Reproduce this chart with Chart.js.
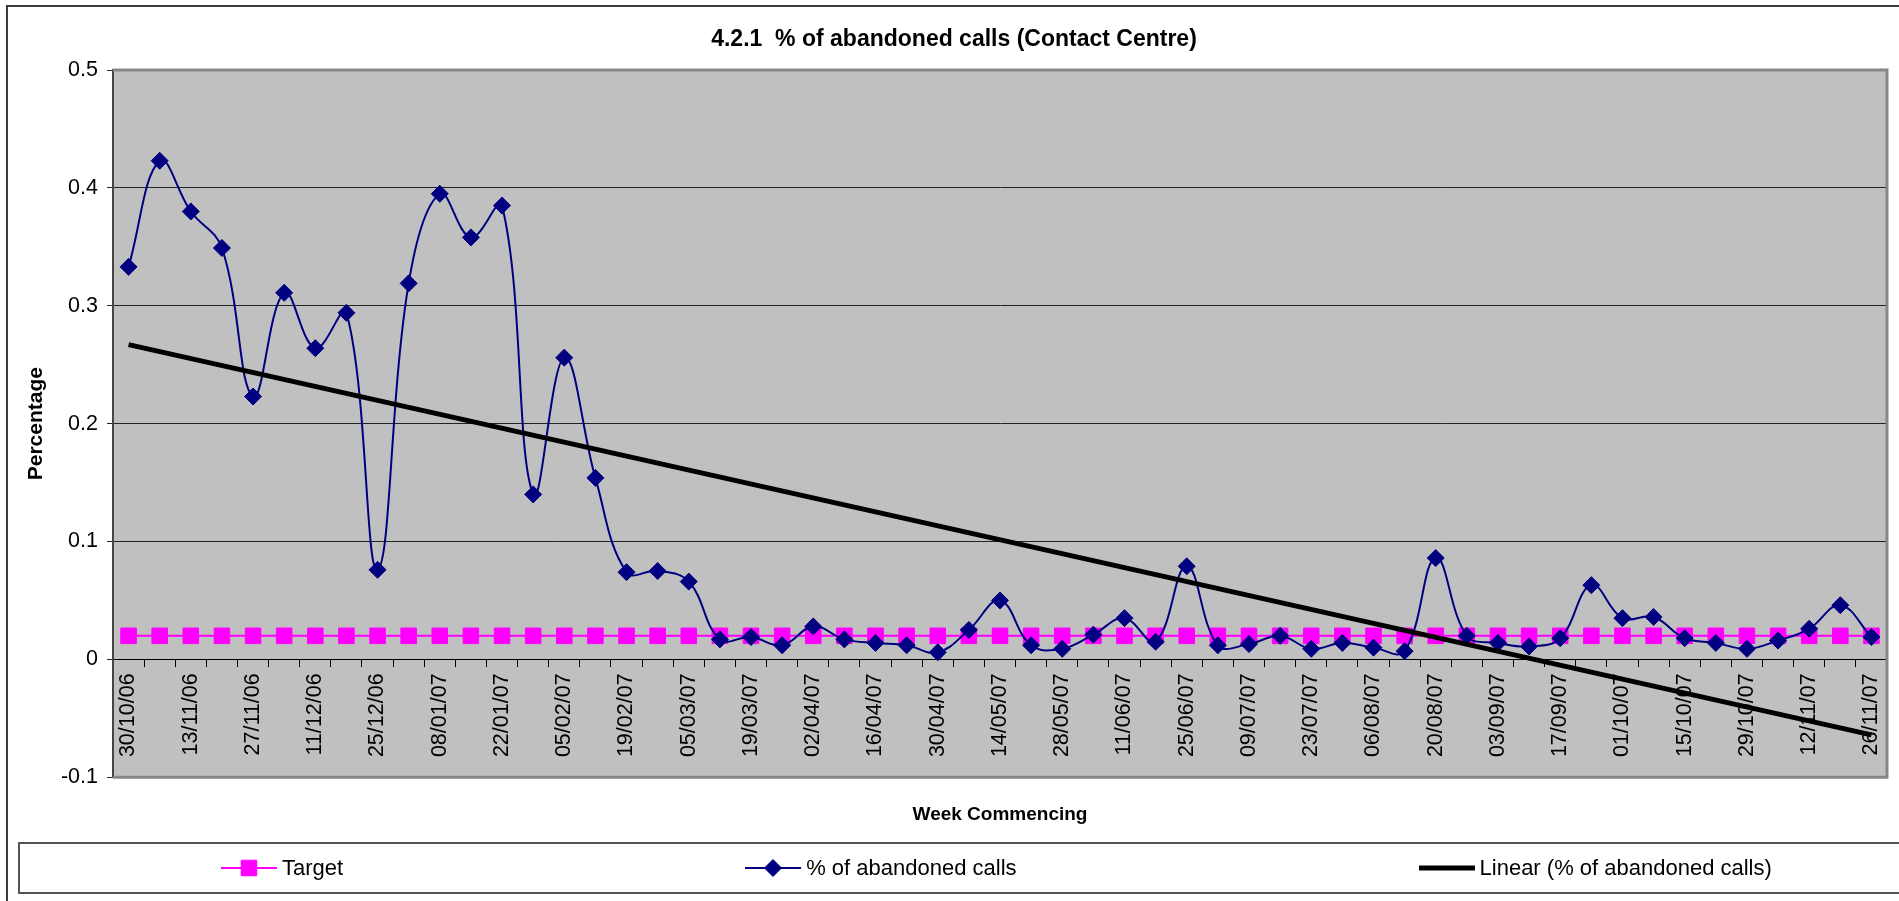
<!DOCTYPE html>
<html>
<head>
<meta charset="utf-8">
<title>4.2.1 % of abandoned calls (Contact Centre)</title>
<script src="https://cdn.jsdelivr.net/npm/chart.js@4.4.1/dist/chart.umd.min.js"></script>
<style>
  html, body { margin: 0; padding: 0; background: #fff; overflow: hidden; }
  #wrap { position: relative; width: 1899px; height: 901px; }
  #chart { position: absolute; left: 0; top: 0; }
  #frame { position: absolute; left: 6px; top: 5px; width: 1950px; height: 950px; border: 2px solid #3c3c3c; pointer-events: none; }
  #legend {
    position: absolute; left: 18px; top: 842px; width: 1950px; height: 52px;
    box-sizing: border-box; border: 2px solid #555; padding-left: 201px;
    display: flex; align-items: center; gap: 402px;
    font: 22px 'Liberation Sans', Arial, sans-serif; color: #000;
  }
  .item { display: flex; align-items: center; white-space: nowrap; }
  .item canvas { margin-right: 5px; }
</style>
</head>
<body>
<div id="wrap">
  <canvas id="chart" width="1899" height="901"></canvas>
  <div id="frame"></div>
  <div id="legend"></div>
</div>
<script>
// week commencing dates (every other one is labelled on the axis)
const weeks = [
    '30/10/06', '06/11/06', '13/11/06', '20/11/06', '27/11/06', '04/12/06', '11/12/06', '18/12/06',
    '25/12/06', '01/01/07', '08/01/07', '15/01/07', '22/01/07', '29/01/07', '05/02/07', '12/02/07',
    '19/02/07', '26/02/07', '05/03/07', '12/03/07', '19/03/07', '26/03/07', '02/04/07', '09/04/07',
    '16/04/07', '23/04/07', '30/04/07', '07/05/07', '14/05/07', '21/05/07', '28/05/07', '04/06/07',
    '11/06/07', '18/06/07', '25/06/07', '02/07/07', '09/07/07', '16/07/07', '23/07/07', '30/07/07',
    '06/08/07', '13/08/07', '20/08/07', '27/08/07', '03/09/07', '10/09/07', '17/09/07', '24/09/07',
    '01/10/07', '08/10/07', '15/10/07', '22/10/07', '29/10/07', '05/11/07', '12/11/07', '19/11/07',
    '26/11/07'
];

const abandoned = [
    0.333, 0.423, 0.380, 0.349, 0.223, 0.311, 0.264, 0.294, 0.076, 0.319,
    0.395, 0.358, 0.385, 0.140, 0.256, 0.154, 0.074, 0.075, 0.066, 0.017,
    0.019, 0.012, 0.028, 0.017, 0.014, 0.012, 0.006, 0.025, 0.050, 0.012,
    0.009, 0.021, 0.035, 0.015, 0.079, 0.012, 0.013, 0.020, 0.009, 0.014,
    0.010, 0.007, 0.086, 0.020, 0.014, 0.011, 0.018, 0.063, 0.035, 0.036,
    0.018, 0.014, 0.009, 0.016, 0.026, 0.046, 0.019
];

const target = [
    0.02, 0.02, 0.02, 0.02, 0.02, 0.02, 0.02, 0.02, 0.02, 0.02,
    0.02, 0.02, 0.02, 0.02, 0.02, 0.02, 0.02, 0.02, 0.02, 0.02,
    0.02, 0.02, 0.02, 0.02, 0.02, 0.02, 0.02, 0.02, 0.02, 0.02,
    0.02, 0.02, 0.02, 0.02, 0.02, 0.02, 0.02, 0.02, 0.02, 0.02,
    0.02, 0.02, 0.02, 0.02, 0.02, 0.02, 0.02, 0.02, 0.02, 0.02,
    0.02, 0.02, 0.02, 0.02, 0.02, 0.02, 0.02
];

const trendEnds = [0.267, -0.064];

const yRange = [-0.1, 0.5];
const yStep = 0.1;

Chart.defaults.font.family = "'Liberation Sans', Arial, sans-serif";
Chart.defaults.color = '#000';

// grey plot background and plot border
const plotFrame = {
    id: 'plotFrame',
    beforeDraw(chart) {
        const { ctx, chartArea: a } = chart;
        ctx.save();
        ctx.fillStyle = '#c0c0c0';
        ctx.fillRect(a.left, a.top, a.right - a.left, a.bottom - a.top);
        ctx.restore();
    },
    beforeDatasetsDraw(chart) {
        const { ctx, chartArea: a } = chart;
        ctx.save();
        ctx.strokeStyle = '#878787';
        ctx.lineWidth = 3;
        ctx.beginPath();
        ctx.moveTo(a.left, a.top);
        ctx.lineTo(a.right, a.top);
        ctx.lineTo(a.right, a.bottom);
        ctx.lineTo(a.left, a.bottom);
        ctx.stroke();
        ctx.restore();
    }
};

// legend built as html under the chart, with line + marker symbols
const htmlLegend = {
    id: 'htmlLegend',
    afterUpdate(chart) {
        const box = document.getElementById('legend');
        box.innerHTML = '';
        chart.data.datasets.forEach(ds => {
            const item = document.createElement('div');
            item.className = 'item';
            const sym = document.createElement('canvas');
            sym.width = 56;
            sym.height = 24;
            const c = sym.getContext('2d');
            c.strokeStyle = ds.borderColor;
            c.lineWidth = ds.borderWidth;
            c.beginPath();
            c.moveTo(0, 12);
            c.lineTo(56, 12);
            c.stroke();
            if (ds.pointRadius) {
                c.fillStyle = ds.pointBackgroundColor;
                c.strokeStyle = ds.pointBorderColor;
                c.lineWidth = ds.pointBorderWidth;
                Chart.helpers.drawPoint(c, {
                    pointStyle: ds.pointStyle,
                    radius: ds.pointRadius,
                    borderWidth: ds.pointBorderWidth,
                    rotation: 0
                }, 28, 12);
            }
            const label = document.createElement('span');
            label.textContent = ds.label;
            item.append(sym, label);
            box.appendChild(item);
        });
    }
};

const ctx = document.getElementById('chart').getContext('2d');
new Chart(ctx, {
    type: 'line',
    data: {
        labels: weeks,
        datasets: [{
            label: 'Target',
            data: target,
            xAxisID: 'x',
            borderColor: '#ff00ff',
            backgroundColor: '#ff00ff',
            borderWidth: 2,
            pointStyle: 'rect',
            pointRadius: 11,
            pointBackgroundColor: '#ff00ff',
            pointBorderColor: '#ff00ff',
            pointBorderWidth: 1,
            tension: 0,
            order: 2
        }, {
            label: '% of abandoned calls',
            data: abandoned,
            xAxisID: 'x',
            borderColor: '#000080',
            backgroundColor: '#000080',
            borderWidth: 2,
            pointStyle: 'rectRot',
            pointRadius: 8.5,
            pointBackgroundColor: '#000080',
            pointBorderColor: '#000080',
            pointBorderWidth: 1,
            tension: 0.4,
            order: 1
        }, {
            label: 'Linear (% of abandoned calls)',
            data: [
                { x: weeks[0], y: trendEnds[0] },
                { x: weeks[weeks.length - 1], y: trendEnds[1] }
            ],
            xAxisID: 'x',
            borderColor: '#000000',
            backgroundColor: '#000000',
            borderWidth: 5,
            pointRadius: 0,
            tension: 0,
            order: 0
        }]
    },
    options: {
        responsive: false,
        animation: false,
        events: [],
        layout: {
            padding: { left: 19, right: 10, top: 0, bottom: 74.4 }
        },
        plugins: {
            legend: { display: false },
            tooltip: { enabled: false },
            title: {
                display: true,
                text: '4.2.1  % of abandoned calls (Contact Centre)',
                color: '#000',
                font: { size: 23, weight: 'bold' },
                padding: { top: 26, bottom: 16.4 }
            }
        },
        scales: {
            x: {
                type: 'category',
                position: { y: 0 },
                offset: true,
                grid: {
                    display: true,
                    drawOnChartArea: false,
                    drawTicks: true,
                    tickLength: 7,
                    offset: true,
                    color: '#000',
                    lineWidth: 1
                },
                border: { display: true, color: '#000', width: 1 },
                ticks: {
                    autoSkip: false,
                    maxRotation: 90,
                    minRotation: 90,
                    padding: 7,
                    font: { size: 21.5 },
                    callback: (value, index) => index % 2 === 0 ? weeks[index] : ''
                },
                afterFit(scale) {
                    scale.paddingLeft = 0;
                    scale.paddingRight = 0;
                }
            },
            x2: {
                type: 'category',
                labels: weeks,
                position: 'bottom',
                grid: { display: false, drawTicks: false },
                border: { display: false },
                ticks: { display: false },
                title: {
                    display: true,
                    text: 'Week Commencing',
                    font: { size: 19, weight: 'bold' },
                    padding: { top: 26.5, bottom: 0 }
                }
            },
            y: {
                min: yRange[0],
                max: yRange[1],
                ticks: {
                    stepSize: yStep,
                    padding: 9,
                    font: { size: 21.5 },
                    callback: v => String(Math.round(v * 10) / 10)
                },
                grid: { color: '#222', lineWidth: 1, drawTicks: true, tickLength: 6 },
                border: { display: true, color: '#444', width: 2 },
                title: {
                    display: true,
                    text: 'Percentage',
                    font: { size: 21, weight: 'bold' },
                    padding: { top: 4.4, bottom: 0 }
                },
                afterFit(scale) {
                    scale.width = 94;
                }
            }
        }
    },
    plugins: [plotFrame, htmlLegend]
});
</script>
</body>
</html>
